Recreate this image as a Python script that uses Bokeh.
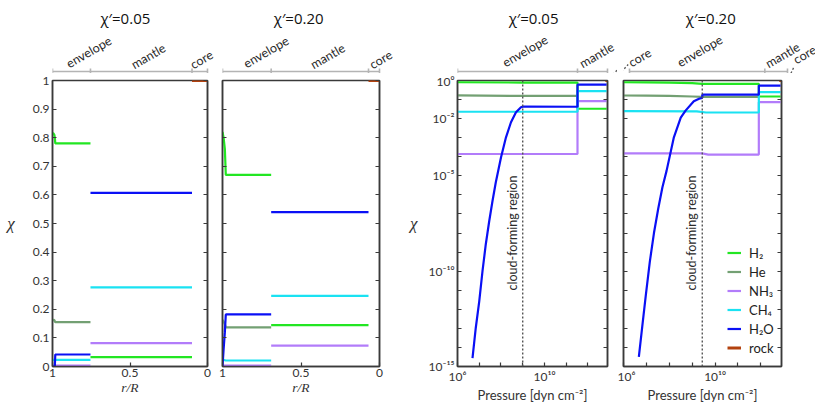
import json
import numpy as np
from bokeh.plotting import figure
from bokeh.layouts import row, column
from bokeh.models import (Range1d, FixedTicker, CustomJSTickFormatter, LinearAxis, LogAxis,
                          Span, Label, Legend, LegendItem)
from bokeh.embed import file_html
from bokeh.resources import INLINE
from bokeh.core.properties import value

# ---------------- data ----------------
SPECIES = ["H₂", "He", "NH₃", "CH₄", "H₂O", "rock"]
COLORS = ["#22e622", "#73a073", "#b27cfa", "#1ae2f2", "#0a10f5", "#b3420f"]
TITLES = ["χ′=0.05", "χ′=0.20", "χ′=0.05", "χ′=0.20"]
LAYERS = ["envelope", "mantle", "core"]

# linear panels: r/R
R_TICKS = [1.0, 0.5, 0.0]
CHI_TICKS = [0.0, 0.1, 0.2, 0.3, 0.4, 0.5, 0.6, 0.7, 0.8, 0.9, 1.0]

R05_BOUNDS = [1.0, 0.755, 0.10, 0.0]
R05_ENV = [1.0, 0.994, 0.988, 0.985, 0.982, 0.755]
R05_ENV_H2 = [0.815, 0.815, 0.81, 0.80, 0.78, 0.78]
R05_ENV_He = [0.160, 0.164, 0.162, 0.158, 0.155, 0.155]
R05_ENV_NH3 = [0.003, 0.003, 0.003, 0.003, 0.003, 0.003]
R05_ENV_CH4 = [0.023, 0.023, 0.023, 0.023, 0.023, 0.023]
R05_ENV_H2O = [0.0, 0.0, 0.0, 0.001, 0.042, 0.042]
R05_MANTLE = [0.033, None, 0.082, 0.277, 0.607]   # H2, He, NH3, CH4, H2O
R05_CORE_ROCK = 1.0

R20_BOUNDS = [1.0, 0.69, 0.07, 0.0]
R20_ENV = [1.0, 0.993, 0.985, 0.979, 0.69]
R20_ENV_H2 = [0.82, 0.80, 0.76, 0.67, 0.67]
R20_ENV_He = [0.163, 0.157, 0.148, 0.137, 0.137]
R20_ENV_NH3 = [0.003, 0.003, 0.003, 0.003, 0.003]
R20_ENV_CH4 = [0.023, 0.023, 0.022, 0.021, 0.021]
R20_ENV_H2O = [0.0, 0.06, 0.12, 0.182, 0.182]
R20_MANTLE = [0.145, None, 0.073, 0.247, 0.54]
R20_CORE_ROCK = 1.0

# log panels: log10 pressure [dyn cm^-2]
LOGP_MIN, LOGP_MAX = 6.0, 12.9
LOGCHI_MIN, LOGCHI_MAX = -15.0, 0.0
LOGP_TICKS = [6, 7, 8, 9, 10, 11, 12]
LOGP_LABELED = [6, 10]
LOGCHI_TICKS = [0, -1, -2, -3, -4, -5, -6, -7, -8, -9, -10, -11, -12, -13, -14, -15]
LOGCHI_LABELED = [0, -2, -5, -10, -15]

P05_BOUNDS = [6.0, 11.52, 12.9]
P05_CLOUD = 9.0
P05_H2_LOGP = [6.0, 9.0, 11.52, 11.52, 12.86]
P05_H2 = [0.81, 0.78, 0.78, 0.033, 0.033]
P05_He_LOGP = [6.0, 9.0, 11.52]
P05_He = [0.164, 0.155, 0.155]
P05_NH3_LOGP = [6.0, 11.52, 11.52, 12.86]
P05_NH3 = [1.4e-4, 1.4e-4, 0.082, 0.082]
P05_CH4_LOGP = [6.0, 11.52, 11.52, 12.86]
P05_CH4 = [0.023, 0.023, 0.277, 0.277]
P05_H2O_CURVE_LOGP = [6.69, 6.84, 7.0, 7.15, 7.30, 7.46, 7.61, 7.76, 8.0, 8.23, 8.46, 8.69, 8.92, 9.0]
P05_H2O_CURVE_LOGCHI = [-14.56, -12.98, -11.58, -10.0, -8.6, -7.37, -6.32, -5.35, -4.04, -2.98,
                        -2.19, -1.67, -1.40, -1.37]
P05_H2O_STEP_LOGP = [11.52, 11.52, 12.86]
P05_H2O_STEP = [0.042, 0.607, 0.607]
P05_ROCK_LOGP = [12.8, 12.9]
P05_ROCK = [1.0, 1.0]

P20_BOUNDS = [6.0, 11.91, 12.9]
P20_CLOUD = 9.44
P20_H2_LOGP = [6.0, 7.0, 8.0, 9.0, 9.44, 11.91, 11.91, 12.86]
P20_H2 = [0.81, 0.80, 0.78, 0.73, 0.67, 0.67, 0.145, 0.145]
P20_He_LOGP = [6.0, 7.0, 8.0, 9.0, 9.44, 11.91]
P20_He = [0.163, 0.160, 0.155, 0.145, 0.137, 0.137]
P20_NH3_LOGP = [6.0, 9.44, 9.7, 11.91, 11.91, 12.86]
P20_NH3 = [1.5e-4, 1.5e-4, 1.3e-4, 1.3e-4, 0.073, 0.073]
P20_CH4_LOGP = [6.0, 9.2, 9.6, 11.91, 11.91, 12.86]
P20_CH4 = [0.025, 0.024, 0.021, 0.021, 0.247, 0.247]
P20_H2O_CURVE_LOGP = [6.67, 6.82, 6.98, 7.15, 7.33, 7.52, 7.70, 7.88, 8.2, 8.5, 8.71, 9.07, 9.3, 9.44]
P20_H2O_CURVE_LOGCHI = [-14.5, -12.9, -11.2, -9.5, -8.0, -6.7, -5.6, -4.74, -2.98, -1.95, -1.58,
                        -1.09, -0.96, -0.91]
P20_H2O_STEP_LOGP = [9.44, 11.91, 11.91, 12.86]
P20_H2O_STEP = [0.18, 0.18, 0.54, 0.54]
P20_ROCK_LOGP = [12.8, 12.9]
P20_ROCK = [1.0, 1.0]

# ---------------- styling / layout ----------------
FONT = "Lato"
FRAME = "#3a3a3a"
BRACKET = "#b4b4b4"
TXT = "#2a2a2a"
LW = 2.2
FRAME_H = 286
HEAD_H = 73
GAP = 7
BOTTOM = 32

SUP_JS = """
const sup = {"-":"\u207b","0":"\u2070","1":"\u00b9","2":"\u00b2","3":"\u00b3","4":"\u2074","5":"\u2075","6":"\u2076","7":"\u2077","8":"\u2078","9":"\u2079"};
"""


def lin_fmt():
    return CustomJSTickFormatter(code="return String(Math.round(tick*10)/10);")


def blank_fmt():
    return CustomJSTickFormatter(code="return '';")


def log_fmt(shown):
    code = SUP_JS + "const shown = %s;\n" % json.dumps(shown) + """
const e = Math.round(Math.log10(tick));
if (!shown.includes(e)) { return ''; }
return '10' + String(e).split('').map(c => sup[c]).join('');
"""
    return CustomJSTickFormatter(code=code)


def style_axis(ax):
    ax.axis_line_color = FRAME
    ax.axis_line_width = 1.5
    ax.major_tick_line_color = FRAME
    ax.major_tick_line_width = 1.2
    ax.major_tick_in = 4
    ax.major_tick_out = 0
    ax.minor_tick_line_color = None
    ax.major_label_text_font = FONT
    ax.major_label_text_font_size = "12px"
    ax.major_label_text_color = "#333333"


def base_fig(fw, left, right, log=False):
    kw = dict(frame_width=fw, frame_height=FRAME_H, output_backend="svg", toolbar_location=None,
              title=None, min_border_left=left, min_border_right=right, min_border_top=GAP,
              min_border_bottom=BOTTOM, background_fill_color="white", border_fill_color="white")
    if log:
        p = figure(x_axis_type="log", y_axis_type="log",
                   x_range=Range1d(10 ** LOGP_MIN, 10 ** LOGP_MAX),
                   y_range=Range1d(10 ** LOGCHI_MIN, 10 ** LOGCHI_MAX), **kw)
    else:
        p = figure(x_range=Range1d(1.0, 0.0), y_range=Range1d(0.0, 1.0), **kw)
    p.grid.visible = False
    p.outline_line_color = FRAME
    p.outline_line_width = 1.5
    return p


def header_fig(fw, left, right, ext_left, x0, x1, log):
    """Strip above a panel; same horizontal scale as the panel, y = pixels above the frame."""
    s = (x1 - x0) / fw
    a = x0 - ext_left * s
    b = x1 + right * s
    kw = dict(frame_width=fw + right + ext_left, frame_height=HEAD_H,
              min_border_left=left - ext_left, min_border_right=0, min_border_top=0,
              min_border_bottom=0, output_backend="svg", toolbar_location=None, title=None,
              x_axis_location=None, y_axis_location=None,
              y_range=Range1d(GAP, GAP + HEAD_H), border_fill_color="white")
    if log:
        h = figure(x_axis_type="log", x_range=Range1d(10 ** a, 10 ** b), **kw)
    else:
        h = figure(x_range=Range1d(a, b), **kw)
    h.grid.visible = False
    h.outline_line_color = None
    return h


def draw_text30(h, xs, ys, ts):
    h.text(x=xs, y=ys, text=ts, angle=30, angle_units="deg", text_align="left",
           text_baseline="alphabetic", text_font=value(FONT), text_font_size="12.5px",
           text_color=TXT)


def draw_bracket(h, bounds, labels):
    ybr = 9
    n = len(bounds)
    h.segment(x0=bounds[:-1], y0=[ybr] * (n - 1), x1=bounds[1:], y1=[ybr] * (n - 1),
              line_color=BRACKET, line_width=1.6)
    h.segment(x0=bounds, y0=[ybr - 3] * n, x1=bounds, y1=[ybr + 3] * n,
              line_color=BRACKET, line_width=1.6)
    draw_text30(h, [x for (_, x, _) in labels], [y for (_, _, y) in labels],
                [t for (t, _, _) in labels])


def draw_title(h, x, text):
    h.text(x=[x], y=[62.5], text=[text], text_align="center", text_baseline="middle",
           text_font=value("Open Sans"), text_font_size="15px", text_color="#111111")


def y_label(ax, standoff):
    ax.axis_label = "χ"
    ax.axis_label_orientation = "horizontal"
    ax.axis_label_text_font = "Liberation Serif"
    ax.axis_label_text_font_style = "italic"
    ax.axis_label_text_font_size = "17px"
    ax.axis_label_text_color = "#333333"
    ax.axis_label_standoff = standoff


# ---------------- linear panels ----------------
def linear_panel(fw, left, right, env_r, env_series, bounds, mantle, rock, show_y):
    p = base_fig(fw, left, right)
    for ser, col in zip(env_series, COLORS[:5]):
        p.line(env_r, ser, line_color=col, line_width=LW)
    for val, col in zip(mantle, COLORS[:5]):
        if val is None:
            continue
        p.line([bounds[1], bounds[2]], [val, val], line_color=col, line_width=LW)
    p.line([bounds[2], bounds[3]], [rock, rock], line_color=COLORS[5], line_width=3)

    p.xaxis.ticker = FixedTicker(ticks=R_TICKS, minor_ticks=[])
    p.xaxis.formatter = lin_fmt()
    p.xaxis.axis_label = "r/R"
    p.xaxis.axis_label_text_font = "Liberation Serif"
    p.xaxis.axis_label_text_font_style = "italic"
    p.xaxis.axis_label_text_font_size = "13.5px"
    p.xaxis.axis_label_text_color = "#333333"
    p.xaxis.axis_label_standoff = 0
    p.xaxis.major_label_standoff = 2
    style_axis(p.xaxis[0])

    p.yaxis.ticker = FixedTicker(ticks=CHI_TICKS, minor_ticks=[])
    style_axis(p.yaxis[0])
    if show_y:
        p.yaxis.formatter = lin_fmt()
        p.yaxis.major_label_standoff = 3
        y_label(p.yaxis[0], 15)
    else:
        p.yaxis.formatter = blank_fmt()
        p.yaxis.major_label_standoff = 0

    rax = LinearAxis(ticker=FixedTicker(ticks=CHI_TICKS, minor_ticks=[]), formatter=blank_fmt(),
                     major_label_standoff=0)
    style_axis(rax)
    p.add_layout(rax, "right")
    return p


# panel 1
W1, L1, RB1 = 155, 52, 10
p1 = linear_panel(W1, L1, RB1, R05_ENV,
                  [R05_ENV_H2, R05_ENV_He, R05_ENV_NH3, R05_ENV_CH4, R05_ENV_H2O],
                  R05_BOUNDS, R05_MANTLE, R05_CORE_ROCK, True)
h1 = header_fig(W1, L1, RB1, 0, 1.0, 0.0, False)
draw_bracket(h1, R05_BOUNDS, [("envelope", 0.905, 16), ("mantle", 0.486, 15), ("core", 0.105, 15)])
draw_title(h1, 0.53, TITLES[0])

# panel 2
W2, L2, RB2 = 157, 5, 20
p2 = linear_panel(W2, L2, RB2, R20_ENV,
                  [R20_ENV_H2, R20_ENV_He, R20_ENV_NH3, R20_ENV_CH4, R20_ENV_H2O],
                  R20_BOUNDS, R20_MANTLE, R20_CORE_ROCK, False)
h2 = header_fig(W2, L2, RB2, 0, 1.0, 0.0, False)
draw_bracket(h2, R20_BOUNDS, [("envelope", 0.86, 16), ("mantle", 0.433, 15), ("core", 0.057, 15)])
draw_title(h2, 0.515, TITLES[1])


# ---------------- log panels ----------------
def log_panel(fw, left, right, series, cloud, show_y):
    p = base_fig(fw, left, right, log=True)
    rends = []
    for (lx, ys), col, name in zip(series, COLORS, SPECIES):
        w = 3 if name == "rock" else LW
        r = p.line(10 ** np.array(lx, dtype=float), ys, line_color=col, line_width=w)
        rends.append(r)

    p.add_layout(Span(location=10 ** cloud, dimension="height", line_color="#555555",
                      line_width=1.4, line_dash="2 2"))
    p.add_layout(Label(x=10 ** cloud, y=1e-8, x_offset=-3, text="cloud-forming region",
                       angle=90, angle_units="deg", text_align="center", text_baseline="bottom",
                       text_font=FONT, text_font_size="12.5px", text_color=TXT))

    p.xaxis.ticker = FixedTicker(ticks=[10.0 ** t for t in LOGP_TICKS], minor_ticks=[])
    p.xaxis.formatter = log_fmt(LOGP_LABELED)
    p.xaxis.axis_label = "Pressure [dyn cm⁻²]"
    p.xaxis.axis_label_text_font = FONT
    p.xaxis.axis_label_text_font_style = "normal"
    p.xaxis.axis_label_text_font_size = "13px"
    p.xaxis.axis_label_text_color = "#333333"
    p.xaxis.axis_label_standoff = 0
    p.xaxis.major_label_standoff = 2
    style_axis(p.xaxis[0])

    p.yaxis.ticker = FixedTicker(ticks=[10.0 ** t for t in LOGCHI_TICKS], minor_ticks=[])
    style_axis(p.yaxis[0])
    if show_y:
        p.yaxis.formatter = log_fmt(LOGCHI_LABELED)
        p.yaxis.major_label_standoff = 3
        y_label(p.yaxis[0], 8)
    else:
        p.yaxis.formatter = blank_fmt()
        p.yaxis.major_label_standoff = 0

    rax = LogAxis(ticker=FixedTicker(ticks=[10.0 ** t for t in LOGCHI_TICKS], minor_ticks=[]),
                  formatter=blank_fmt(), major_label_standoff=0)
    style_axis(rax)
    p.add_layout(rax, "right")
    return p, rends


s05 = [
    (P05_H2_LOGP, P05_H2), (P05_He_LOGP, P05_He), (P05_NH3_LOGP, P05_NH3), (P05_CH4_LOGP, P05_CH4),
    (P05_H2O_CURVE_LOGP + P05_H2O_STEP_LOGP,
     list(10 ** np.array(P05_H2O_CURVE_LOGCHI)) + P05_H2O_STEP),
    (P05_ROCK_LOGP, P05_ROCK),
]
W3, L3, RB3 = 150, 58, 10
p3, _ = log_panel(W3, L3, RB3, s05, P05_CLOUD, True)
h3 = header_fig(W3, L3, RB3, 0, LOGP_MIN, LOGP_MAX, True)
draw_bracket(h3, [10 ** b for b in P05_BOUNDS],
             [("envelope", 10 ** 8.116, 17), ("mantle", 10 ** 11.66, 16)])
h3.line([10 ** 12.9, 10 ** 13.58], [0, 16], line_color="#555555", line_width=1.3, line_dash="2 2")
draw_title(h3, 10 ** 9.5, TITLES[2])

s20 = [
    (P20_H2_LOGP, P20_H2), (P20_He_LOGP, P20_He), (P20_NH3_LOGP, P20_NH3), (P20_CH4_LOGP, P20_CH4),
    (P20_H2O_CURVE_LOGP + P20_H2O_STEP_LOGP,
     list(10 ** np.array(P20_H2O_CURVE_LOGCHI)) + P20_H2O_STEP),
    (P20_ROCK_LOGP, P20_ROCK),
]
W4, L4, RB4 = 158, 6, 34
p4, rends4 = log_panel(W4, L4, RB4, s20, P20_CLOUD, False)
h4 = header_fig(W4, L4, RB4, L4, LOGP_MIN, LOGP_MAX, True)
draw_bracket(h4, [10 ** b for b in P20_BOUNDS],
             [("envelope", 10 ** 8.13, 17), ("mantle", 10 ** 11.98, 16), ("core", 10 ** 13.2, 20)])
h4.line([10 ** 12.9, 10 ** 13.17], [0, 13], line_color="#555555", line_width=1.3, line_dash="2 2")
# overhanging end of the χ′=0.05 pressure panel's core pointer and its "core" label
h4.line([10 ** 5.30, 10 ** 5.943], [0, 16], line_color="#555555", line_width=1.3, line_dash="2 2")
draw_text30(h4, [10 ** 6.0], [17], ["core"])
draw_title(h4, 10 ** 9.55, TITLES[3])

legend = Legend(items=[LegendItem(label=n, renderers=[r]) for n, r in zip(SPECIES, rends4)],
                location=(104, 9), orientation="vertical",
                glyph_width=14, glyph_height=19, label_height=19, label_width=30,
                spacing=0, padding=0, margin=0, label_standoff=8,
                border_line_color=None, background_fill_alpha=0.0,
                label_text_font=FONT, label_text_font_size="13px", label_text_color="#222222")
p4.add_layout(legend)

layout = row(column(h1, p1, spacing=0), column(h2, p2, spacing=0),
             column(h3, p3, spacing=0), column(h4, p4, spacing=0), spacing=0)
open("out.html", "w").write(file_html(layout, INLINE))
